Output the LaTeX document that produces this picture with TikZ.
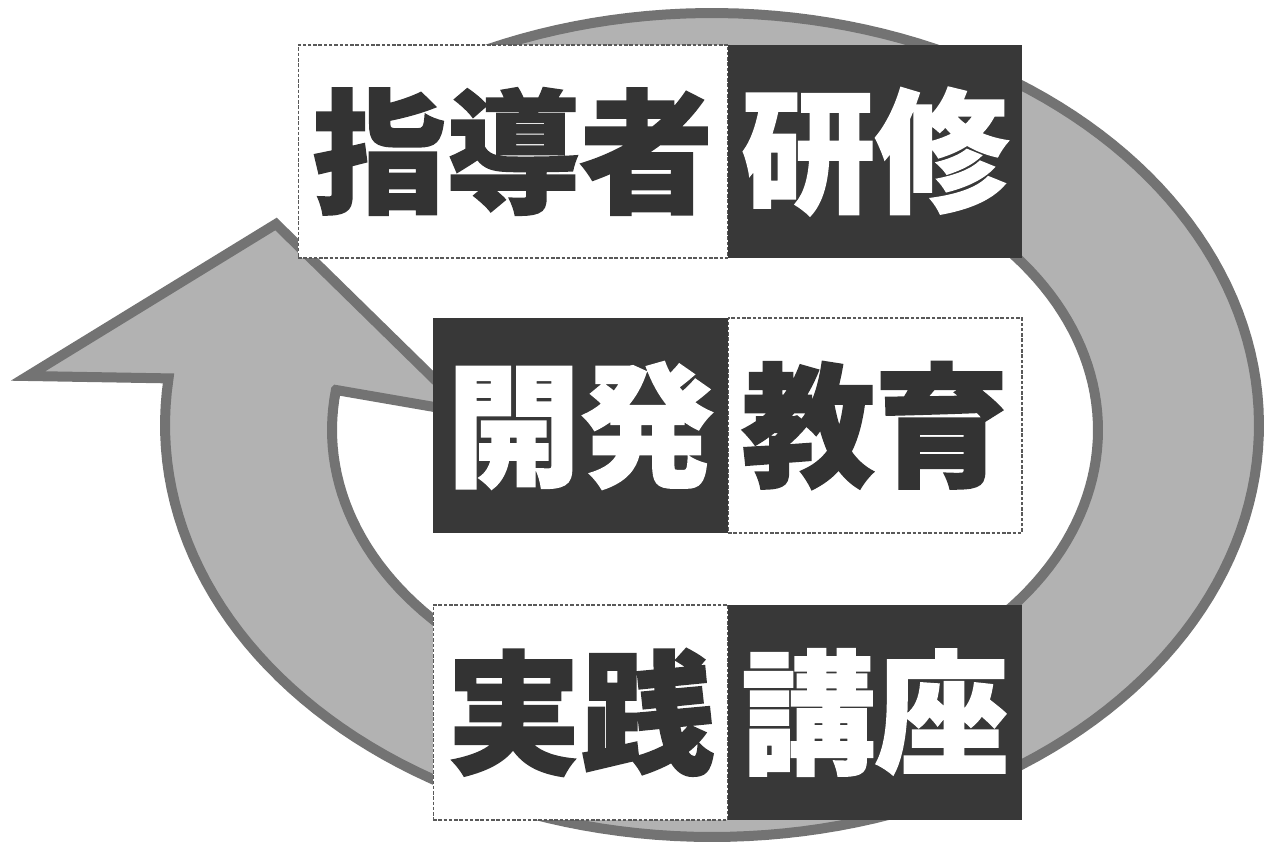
\documentclass[tikz,border=0pt]{standalone}
\usepackage{fontspec}
\newfontfamily\cjk{Noto Sans CJK JP}[BoldFeatures={FakeBold=1.5}]
\begin{document}
\begin{tikzpicture}[x=0.02cm,y=-0.02cm,
  ringstyle/.style={fill=black!30, draw=black!55, line width=0.2cm, line join=miter},
  boxfont/.style={font=\cjk\bfseries\fontsize{76}{76}\selectfont},
  lightbox/.style={rectangle, inner sep=0pt, fill=white, draw=black!65, dash pattern=on 2pt off 1pt, line width=0.6pt, text=black!80, boxfont},
  darkbox/.style={rectangle, inner sep=0pt, fill=black!78, draw=none, text=white, boxfont}]
\useasboundingbox (0,0) rectangle (1265,844);
% circular arrow
\path[ringstyle]
  plot[domain=-120:186.5, samples=160, variable=\t] ({712+547*cos(\t)},{425+412*sin(\t)})
  -- (28,376) -- (276,224) -- (469,413) -- (336,390)
  -- plot[domain=188.2:-120, samples=160, variable=\t] ({715+383*cos(\t)},{430+280*sin(\t)})
  -- cycle;
% boxes
\node[lightbox, minimum width=8.6cm, minimum height=4.26cm] (t1) at (513,151.5) {指導者};
\node[darkbox, minimum width=5.88cm, minimum height=4.26cm] (t2) at (875,151.5) {研修};
\node[lightbox, minimum width=5.88cm, minimum height=4.3cm] (m2) at (875,425.5) {教育};
\node[darkbox, minimum width=5.9cm, minimum height=4.3cm] (m1) at (580.5,425.5) {開発};
\node[lightbox, minimum width=5.9cm, minimum height=4.3cm] (b1) at (580.5,712.5) {実践};
\node[darkbox, minimum width=5.88cm, minimum height=4.3cm] (b2) at (875,712.5) {講座};
\end{tikzpicture}
\end{document}
